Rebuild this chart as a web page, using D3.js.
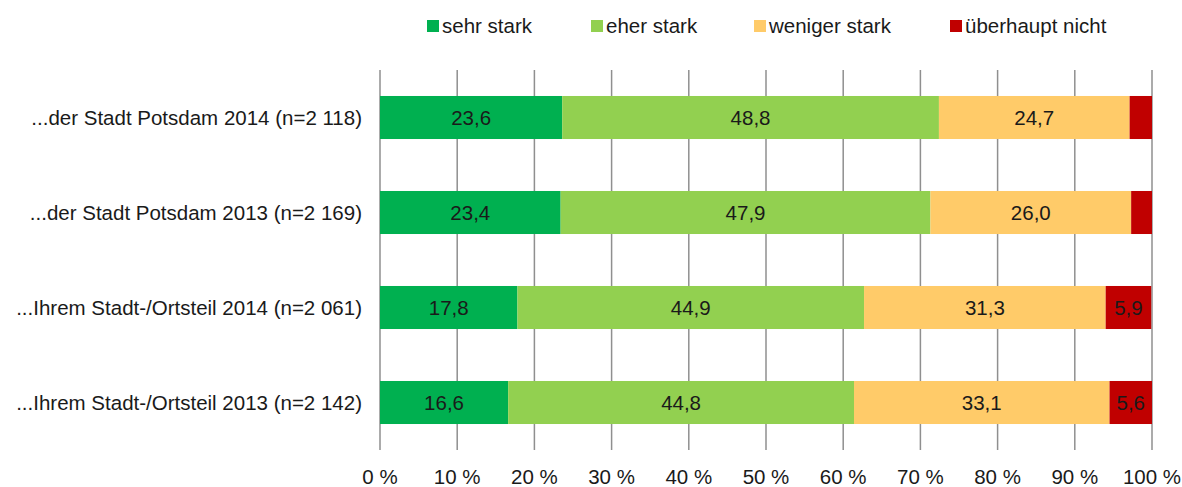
<!DOCTYPE html>
<html>
<head>
<meta charset="utf-8">
<script src="https://cdn.jsdelivr.net/npm/d3@7"></script>
<style>
  body { margin: 0; background: #fff; }
  text { font-family: "Liberation Sans", Arial, sans-serif; fill: #1a1a1a; }
</style>
</head>
<body>
<div id="chart"></div>
<script>
// data
var categories = [
    "...der Stadt Potsdam 2014 (n=2 118)",
    "...der Stadt Potsdam 2013 (n=2 169)",
    "...Ihrem Stadt-/Ortsteil 2014 (n=2 061)",
    "...Ihrem Stadt-/Ortsteil 2013 (n=2 142)"
];
var seriesNames = ["sehr stark", "eher stark", "weniger stark", "überhaupt nicht"];
var sehrStark = [23.6, 23.4, 17.8, 16.6];
var eherStark = [48.8, 47.9, 44.9, 44.8];
var wenigerStark = [24.7, 26.0, 31.3, 33.1];
var ueberhauptNicht = [2.9, 2.7, 5.9, 5.6];
var tickValues = [0, 10, 20, 30, 40, 50, 60, 70, 80, 90, 100];
var colors = ["#00b050", "#92d050", "#ffcb69", "#c00000"];

var width = 1182,
    height = 487,
    fontSize = "20.5px";

var svg = d3.select("#chart").append("svg")
    .attr("width", width)
    .attr("height", height);

var x = d3.scaleLinear().domain([0, 100]).range([380, 1152]);
var y = d3.scaleBand().domain(categories).range([70, 450]).paddingInner(0.547).paddingOuter(0.2735);

// rows -> stacked segments
var rows = categories.map(function(c, i){
    return {cat: c, vals: [sehrStark[i], eherStark[i], wenigerStark[i], ueberhauptNicht[i]]};
});
var keys = [0, 1, 2, 3];
var stack = d3.stack().keys(keys).value(function(d, k){ return d.vals[k]; });
var series = stack(rows);

// gridlines
svg.append("g").selectAll("line")
    .data(tickValues)
    .enter().append("line")
    .attr("x1", function(d){ return x(d); })
    .attr("x2", function(d){ return x(d); })
    .attr("y1", 70)
    .attr("y2", 450)
    .attr("stroke", "#8f8f8f")
    .attr("stroke-width", 1.5);

// bars
var groups = svg.append("g").selectAll("g")
    .data(series)
    .enter().append("g")
    .attr("fill", function(d){ return colors[d.key]; });

groups.selectAll("rect")
    .data(function(d){ return d; })
    .enter().append("rect")
    .attr("x", function(d){ return x(d[0]); })
    .attr("width", function(d){ return Math.min(x(d[1]), x(100)) - x(d[0]); })
    .attr("y", function(d){ return y(d.data.cat); })
    .attr("height", y.bandwidth());

// value labels
groups.selectAll("text")
    .data(function(d){ return d.filter(function(p){ return p[1] - p[0] >= 5; }); })
    .enter().append("text")
    .attr("x", function(d){ return (x(d[0]) + Math.min(x(d[1]), x(100))) / 2; })
    .attr("y", function(d){ return y(d.data.cat) + y.bandwidth() / 2; })
    .attr("dy", "0.35em")
    .attr("text-anchor", "middle")
    .style("font-size", fontSize)
    .text(function(d){ return d3.format(".1f")(d[1] - d[0]).replace(".", ","); });

// category labels
svg.append("g").selectAll("text")
    .data(categories)
    .enter().append("text")
    .attr("x", 362)
    .attr("y", function(d){ return y(d) + y.bandwidth() / 2; })
    .attr("dy", "0.35em")
    .attr("text-anchor", "end")
    .style("font-size", fontSize)
    .text(function(d){ return d; });

// x tick labels
svg.append("g").selectAll("text")
    .data(tickValues)
    .enter().append("text")
    .attr("x", function(d){ return x(d); })
    .attr("y", 477)
    .attr("dy", "0.35em")
    .attr("text-anchor", "middle")
    .style("font-size", fontSize)
    .text(function(d){ return d + " %"; });

// legend
var legendX = [427, 591, 754, 950];
var legend = svg.append("g").selectAll("g")
    .data(seriesNames)
    .enter().append("g")
    .attr("transform", function(d, i){ return "translate(" + legendX[i] + ",0)"; });
legend.append("rect")
    .attr("x", 0).attr("y", 20)
    .attr("width", 12).attr("height", 12)
    .attr("fill", function(d, i){ return colors[i]; });
legend.append("text")
    .attr("x", 15)
    .attr("y", 26)
    .attr("dy", "0.35em")
    .style("font-size", fontSize)
    .text(function(d){ return d; });
</script>
</body>
</html>
